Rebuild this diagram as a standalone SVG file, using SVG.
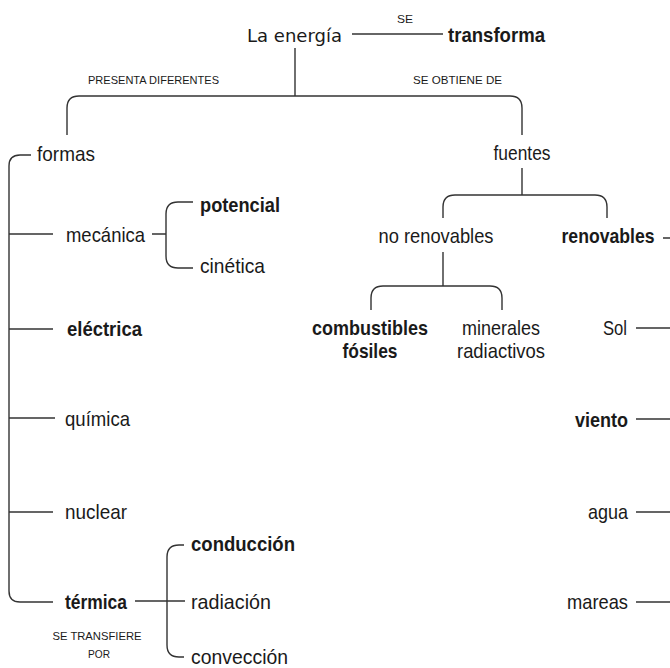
<svg xmlns="http://www.w3.org/2000/svg" width="670" height="668" viewBox="0 0 670 668">
<style>
text{lengthAdjust:spacingAndGlyphs}
.t{font-family:"Liberation Sans",Arial,sans-serif;font-size:21px;fill:#1a1a1a}
.b{font-weight:bold}
.s{font-family:"Liberation Sans",Arial,sans-serif;font-size:11.5px;fill:#1a1a1a}
.h{font-family:"DejaVu Sans","Liberation Sans",sans-serif;font-size:17px;fill:#1a1a1a}
.m{text-anchor:middle}
.e{text-anchor:end}
.c path{fill:none;stroke:#333;stroke-width:1.4}
</style>
<rect width="670" height="668" fill="#fff"/>
<g class="c" id="connectors">
<path d="M352 34H443"/>
<path d="M295 48V96"/>
<path d="M67 135V108Q67 96 79 96H510Q522 96 522 108V135"/>
<path d="M522 168V195"/>
<path d="M443 218V207Q443 195 455 195H595Q607 195 607 207V218"/>
<path d="M443 252V286"/>
<path d="M371 310V298Q371 286 383 286H490Q502 286 502 298V310"/>
<path d="M31 155H20Q9 155 9 166V591Q9 602 20 602H53"/>
<path d="M9 234H53M9 329H53M9 418H55M9 512H53"/>
<path d="M152 234H166M193 202H178Q166 202 166 214V256Q166 268 178 268H193"/>
<path d="M135 601H185M184 545H179Q167 545 167 557V645Q167 657 179 657H184"/>
<path d="M663 238H670M636 328H670M636 419H670M636 512H670M636 602H670"/>
</g>
<g id="n-energia"><text class="h" x="247" y="42" textLength="95" lengthAdjust="spacingAndGlyphs">La energía</text></g>
<g id="l-se"><text class="s m" x="405" y="23" textLength="16" lengthAdjust="spacingAndGlyphs">SE</text></g>
<g id="n-transforma"><text class="t b" x="448" y="42" textLength="97" lengthAdjust="spacingAndGlyphs">transforma</text></g>
<g id="l-presenta"><text class="s" x="88" y="84" textLength="131" lengthAdjust="spacingAndGlyphs">PRESENTA DIFERENTES</text></g>
<g id="l-obtiene"><text class="s" x="413" y="84" textLength="89" lengthAdjust="spacingAndGlyphs">SE OBTIENE DE</text></g>
<g id="n-formas"><text class="t" x="37" y="161" textLength="58" lengthAdjust="spacingAndGlyphs">formas</text></g>
<g id="n-fuentes"><text class="t m" x="522" y="160" textLength="57" lengthAdjust="spacingAndGlyphs">fuentes</text></g>
<g id="n-mecanica"><text class="t" x="66" y="242" textLength="79" lengthAdjust="spacingAndGlyphs">mecánica</text></g>
<g id="n-potencial"><text class="t b" x="200" y="212" textLength="80" lengthAdjust="spacingAndGlyphs">potencial</text></g>
<g id="n-cinetica"><text class="t" x="200" y="273" textLength="65" lengthAdjust="spacingAndGlyphs">cinética</text></g>
<g id="n-electrica"><text class="t b" x="67" y="336" textLength="75" lengthAdjust="spacingAndGlyphs">eléctrica</text></g>
<g id="n-quimica"><text class="t" x="65" y="426" textLength="65" lengthAdjust="spacingAndGlyphs">química</text></g>
<g id="n-nuclear"><text class="t" x="65" y="519" textLength="62" lengthAdjust="spacingAndGlyphs">nuclear</text></g>
<g id="n-termica"><text class="t b" x="65" y="609" textLength="62" lengthAdjust="spacingAndGlyphs">térmica</text></g>
<g id="l-transfiere"><text class="s m" x="97" y="640" textLength="89" lengthAdjust="spacingAndGlyphs">SE TRANSFIERE</text><text class="s m" x="99" y="658" textLength="22" lengthAdjust="spacingAndGlyphs">POR</text></g>
<g id="n-conduccion"><text class="t b" x="191" y="551" textLength="104" lengthAdjust="spacingAndGlyphs">conducción</text></g>
<g id="n-radiacion"><text class="t" x="191" y="609" textLength="80" lengthAdjust="spacingAndGlyphs">radiación</text></g>
<g id="n-conveccion"><text class="t" x="191" y="664" textLength="97" lengthAdjust="spacingAndGlyphs">convección</text></g>
<g id="n-norenovables"><text class="t m" x="436" y="243" textLength="115" lengthAdjust="spacingAndGlyphs">no renovables</text></g>
<g id="n-renovables"><text class="t b m" x="608" y="243" textLength="93" lengthAdjust="spacingAndGlyphs">renovables</text></g>
<g id="n-combustibles"><text class="t b m" x="370" y="335" textLength="116" lengthAdjust="spacingAndGlyphs">combustibles</text><text class="t b m" x="370" y="358" textLength="55" lengthAdjust="spacingAndGlyphs">fósiles</text></g>
<g id="n-minerales"><text class="t m" x="501" y="335" textLength="78" lengthAdjust="spacingAndGlyphs">minerales</text><text class="t m" x="501" y="358" textLength="88" lengthAdjust="spacingAndGlyphs">radiactivos</text></g>
<g id="n-sol"><text class="t e" x="627" y="335" textLength="24" lengthAdjust="spacingAndGlyphs">Sol</text></g>
<g id="n-viento"><text class="t b e" x="628" y="427" textLength="53" lengthAdjust="spacingAndGlyphs">viento</text></g>
<g id="n-agua"><text class="t e" x="628" y="519" textLength="40" lengthAdjust="spacingAndGlyphs">agua</text></g>
<g id="n-mareas"><text class="t e" x="628" y="609" textLength="61" lengthAdjust="spacingAndGlyphs">mareas</text></g>
</svg>
